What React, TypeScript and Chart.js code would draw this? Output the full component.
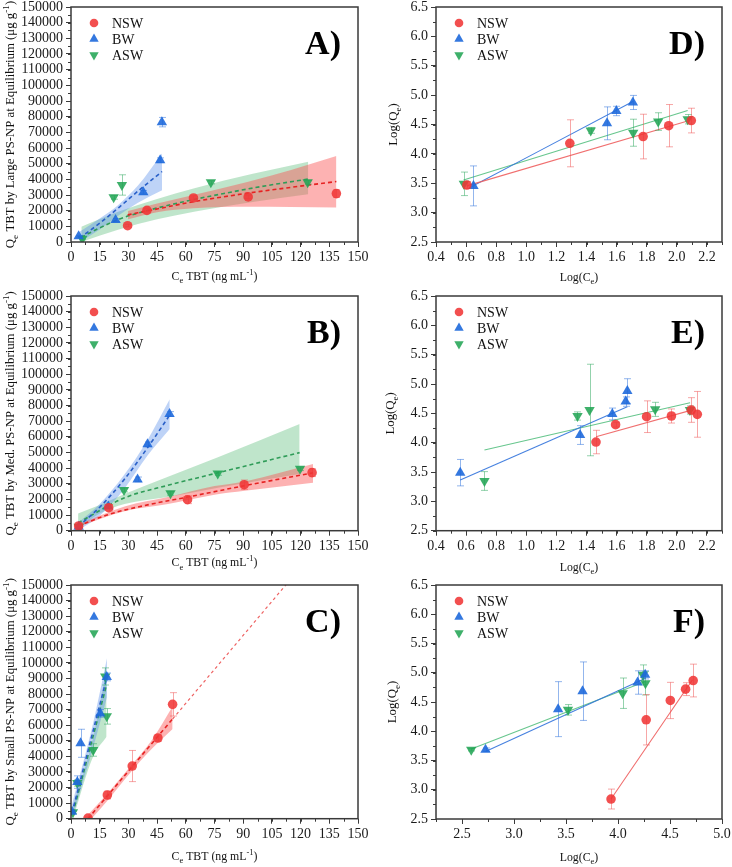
import React, { useEffect, useRef } from 'react';
import { Chart, registerables } from 'chart.js';

Chart.register(...registerables);

type Pt = [number, number, number]; // x, y, error
type Ln = [number, number]; // x, y
type Bd = [number, number, number]; // x, lower, upper

const seriesLabels = ['NSW', 'BW', 'ASW'];

// ---------- tick values ----------
const concTicks = [0, 15, 30, 45, 60, 75, 90, 105, 120, 135, 150];
const qeTicks = [0, 10000, 20000, 30000, 40000, 50000, 60000, 70000, 80000, 90000, 100000, 110000, 120000, 130000, 140000, 150000];
const logQeTicks = [2.5, 3.0, 3.5, 4.0, 4.5, 5.0, 5.5, 6.0, 6.5];
const logCeTicksDE = [0.4, 0.6, 0.8, 1.0, 1.2, 1.4, 1.6, 1.8, 2.0, 2.2];
const logCeTicksF = [2.5, 3.0, 3.5, 4.0, 4.5, 5.0];

// ---------- Panel A (Large PS-NP) ----------
const aNSW: Pt[] = [[29.6, 10400, 800], [39.7, 20200, 1000], [64.0, 28100, 1400], [92.6, 28800, 1200], [138.7, 30900, 2500]];
const aBW: Pt[] = [[4.0, 3600, 600], [23.3, 14000, 1000], [37.8, 31700, 1200], [46.6, 52200, 1500], [47.5, 76500, 3000]];
const aASW: Pt[] = [[5.9, 2000, 500], [22.3, 28500, 1200], [26.6, 36400, 6500], [73.1, 38100, 1000], [123.7, 38100, 1200]];
const aNSWFit: Ln[] = [[29.6, 17300], [45, 21100], [64, 25700], [92.6, 31200], [115, 34900], [138.7, 38600]];
const aBWFit: Ln[] = [[4.5, 2500], [15, 12000], [25, 22000], [35, 32500], [47.6, 45000]];
const aASWFit: Ln[] = [[5.4, 3000], [15, 9000], [25, 14500], [39.7, 20000], [60, 26000], [80, 31000], [100, 35500], [124, 40200]];
const aNSWBand: Bd[] = [[29.8, 14500, 19800], [45, 19000, 24500], [64, 21500, 30000], [92.6, 22500, 38500], [115, 22300, 46000], [138.7, 22100, 54900]];
const aBWBand: Bd[] = [[4.5, 0, 6500], [15, 8000, 15000], [25, 17000, 24000], [35, 25000, 36000], [47.6, 33000, 56500]];
const aASWBand: Bd[] = [[5.4, 0, 9800], [25, 8000, 19500], [45, 14500, 27500], [65, 19500, 34500], [95, 25500, 43500], [124, 30400, 51300]];

// ---------- Panel B (Med. PS-NP) ----------
const bNSW: Pt[] = [[4.0, 3000, 600], [19.7, 14700, 2000], [60.9, 19800, 2500], [90.5, 29400, 3000], [126.0, 37100, 2500]];
const bBW: Pt[] = [[4.0, 2500, 500], [19.5, 15500, 1000], [34.8, 32800, 1500], [40.0, 55200, 1500], [51.5, 74600, 1500]];
const bASW: Pt[] = [[4.0, 2600, 500], [27.7, 26000, 1200], [52.0, 23900, 1200], [76.7, 36600, 1200], [119.7, 39600, 1200]];
const bNSWFit: Ln[] = [[3.7, 3000], [20, 10500], [40, 16500], [60.9, 21500], [90.8, 28800], [126.5, 37000]];
const bBWFit: Ln[] = [[3.7, 2600], [15, 15000], [28, 33000], [40, 53000], [51.6, 73900]];
const bASWFit: Ln[] = [[3.7, 5000], [28, 21000], [50.7, 29000], [76.8, 37000], [119.5, 49900]];
const bNSWBand: Bd[] = [[3.7, 2500, 4000], [28, 12500, 15500], [50.7, 17000, 21500], [75, 23000, 28500], [90.8, 25500, 31500], [126.5, 30700, 42600]];
const bBWBand: Bd[] = [[3.7, 0, 5000], [15, 9500, 17000], [28, 27000, 36000], [40, 48000, 58000], [51.6, 65000, 84000]];
const bASWBand: Bd[] = [[3.7, 1500, 11000], [15, 11000, 16500], [28, 17000, 23500], [50.7, 21500, 34500], [76.8, 27500, 47000], [119.5, 36200, 68200]];

// ---------- Panel C (Small PS-NP) ----------
const cNSW: Pt[] = [[8.9, 400, 700], [19.0, 15200, 2500], [32.0, 33800, 10000], [45.4, 51800, 2000], [53.1, 73400, 7500]];
const cBW: Pt[] = [[0.5, 4500, 800], [3.3, 23500, 4000], [5.0, 48400, 9000], [15.3, 67600, 2500], [18.7, 91000, 2500]];
const cASW: Pt[] = [[1.0, 4100, 800], [3.3, 22900, 2000], [11.6, 44100, 4000], [17.9, 91300, 5500], [18.7, 65700, 5000]];
const cNSWFit: Ln[] = [[8.9, 0], [53.1, 64000]];
const cNSWFitExt: Ln[] = [[53.1, 64000], [115, 154000]];
const cBWFit: Ln[] = [[0.5, 3600], [18.8, 91000]];
const cASWFit: Ln[] = [[1.0, 3600], [18.6, 86000]];
const cNSWBand: Bd[] = [[8.9, -2500, 2500], [20, 13000, 17500], [31, 29500, 33500], [42, 44500, 50000], [53.1, 57500, 72000]];
const cBWBand: Bd[] = [[0.5, 0, 9000], [11.3, 44500, 60000], [18.8, 78000, 103000]];
const cASWBand: Bd[] = [[1.0, 0, 8000], [11.6, 40000, 52000], [18.6, 52600, 96500]];

// ---------- Panel D (log, Large) ----------
const dNSW: Pt[] = [[0.605, 3.47, 0.06], [1.289, 4.18, 0.40], [1.776, 4.295, 0.38], [1.946, 4.48, 0.36], [2.096, 4.567, 0.21]];
const dBW: Pt[] = [[0.649, 3.455, 0.34], [1.536, 4.52, 0.28], [1.598, 4.73, 0.08], [1.708, 4.875, 0.12]];
const dASW: Pt[] = [[0.585, 3.49, 0.2], [1.428, 4.40, 0.05], [1.71, 4.36, 0.23], [1.876, 4.55, 0.15], [2.072, 4.59, 0.08]];
const dNSWFit: Ln[] = [[0.605, 3.455], [2.083, 4.567]];
const dBWFit: Ln[] = [[0.638, 3.443], [1.708, 4.891]];
const dASWFit: Ln[] = [[0.583, 3.557], [2.072, 4.738]];

// ---------- Panel E (log, Med.) ----------
const eNSW: Pt[] = [[1.463, 4.011, 0.2], [1.593, 4.307, 0.04], [1.799, 4.443, 0.27], [1.964, 4.455, 0.12], [2.096, 4.557, 0.21], [2.136, 4.483, 0.39]];
const eBW: Pt[] = [[0.561, 3.489, 0.225], [1.357, 4.13, 0.16], [1.571, 4.49, 0.1], [1.66, 4.70, 0.08], [1.671, 4.88, 0.21]];
const eASW: Pt[] = [[0.722, 3.347, 0.16], [1.34, 4.455, 0.07], [1.42, 4.557, 0.78], [1.856, 4.568, 0.12], [2.087, 4.557, 0.07]];
const eNSWFit: Ln[] = [[1.463, 4.10], [2.116, 4.568]];
const eBWFit: Ln[] = [[0.561, 3.364], [1.671, 4.614]];
const eASWFit: Ln[] = [[0.722, 3.875], [2.088, 4.682]];

// ---------- Panel F (log, Small) ----------
const fNSW: Pt[] = [[3.933, 2.841, 0.17], [4.271, 4.196, 0.43], [4.503, 4.526, 0.31], [4.650, 4.72, 0.11], [4.723, 4.867, 0.28]];
const fBW: Pt[] = [[2.726, 3.684, 0.03], [3.424, 4.378, 0.47], [3.659, 4.685, 0.5], [4.188, 4.833, 0.2], [4.261, 4.964, 0.07]];
const fASW: Pt[] = [[2.589, 3.684, 0.02], [3.519, 4.366, 0.09], [4.045, 4.65, 0.26], [4.239, 4.964, 0.17], [4.264, 4.82, 0.2]];
const fNSWFit: Ln[] = [[3.933, 2.841], [4.716, 4.878]];
const fBWFit: Ln[] = [[2.726, 3.655], [4.264, 4.907]];
const fASWFit: Ln[] = [[2.589, 3.695], [4.264, 4.85]];

// ---------- styles ----------
const FONT = '"Liberation Serif", "DejaVu Serif", "Times New Roman", serif';
const markerColors = ['rgba(240,55,55,0.88)', 'rgba(30,105,220,0.9)', 'rgba(35,165,85,0.88)'];
const errColors = ['rgba(240,80,80,0.5)', 'rgba(40,110,220,0.5)', 'rgba(40,165,90,0.5)'];
const dashColors = ['#e62222', '#2a60c8', '#2f9c58'];
const solidColors = ['rgba(238,95,95,0.9)', 'rgba(50,115,220,0.9)', 'rgba(95,195,135,0.95)'];
const bandColors = ['rgba(250,85,85,0.45)', 'rgba(85,140,235,0.38)', 'rgba(95,190,125,0.4)'];
const pointStyles = ['circle', 'triangle', 'triangle'];
const rotations = [0, 0, 180];
const radii = [4.8, 6, 6];
const AXIS = '#3a3a3a';

interface PanelDef {
  letter: string;
  kind: 'iso' | 'log';
  left: number;
  top: number;
  width: number;
  height: number;
  series: Pt[][];
  fits: Ln[][];
  bands?: Bd[][];
  ext?: Ln[];
  xMin: number; xMax: number; xTicks: number[]; xMinor: number;
  yMin: number; yMax: number; yTicks: number[]; yMinor: number;
  xTitle: string; yTitle: string;
  xTitleOff: number; yTitleX: number;
  xAxisH: number; yAxisW: number; padRight: number;
}

const isoBase = {
  kind: 'iso' as const, left: 0, width: 372,
  xMin: 0, xMax: 150, xTicks: concTicks, xMinor: 7.5,
  yMin: 0, yMax: 150000, yTicks: qeTicks, yMinor: 5000,
  xTitle: 'C_{e} TBT (ng mL^{-1})', yTitleX: 10, yAxisW: 71, padRight: 14,
};
const logBase = {
  kind: 'log' as const, left: 366, width: 366,
  yMin: 2.5, yMax: 6.5, yTicks: logQeTicks, yMinor: 0.25,
  xTitle: 'Log(C_{e})', yTitle: 'Log(Q_{e})', yAxisW: 70, padRight: 10,
};

const panels: PanelDef[] = [
  { ...isoBase, letter: 'A)', top: 0, height: 290, series: [aNSW, aBW, aASW], fits: [aNSWFit, aBWFit, aASWFit], bands: [aNSWBand, aBWBand, aASWBand], yTitle: 'Q_{e} TBT by Large PS-NP at Equilibrium (μg g^{-1})', xTitleOff: 34, xAxisH: 48 },
  { ...isoBase, letter: 'B)', top: 289, height: 290, series: [bNSW, bBW, bASW], fits: [bNSWFit, bBWFit, bASWFit], bands: [bNSWBand, bBWBand, bASWBand], yTitle: 'Q_{e} TBT by Med. PS-NP at Equilibrium (μg g^{-1})', xTitleOff: 31.5, xAxisH: 48.3 },
  { ...isoBase, letter: 'C)', top: 578, height: 289, series: [cNSW, cBW, cASW], fits: [cNSWFit, cBWFit, cASWFit], bands: [cNSWBand, cBWBand, cASWBand], ext: cNSWFitExt, yTitle: 'Q_{e} TBT by Small PS-NP at Equilibrium (μg g^{-1})', xTitleOff: 37, xAxisH: 48.3 },
  { ...logBase, letter: 'D)', top: 0, height: 290, series: [dNSW, dBW, dASW], fits: [dNSWFit, dBWFit, dASWFit], xMin: 0.4, xMax: 2.3, xTicks: logCeTicksDE, xMinor: 0.1, xTitleOff: 34.5, yTitleX: 27, xAxisH: 48 },
  { ...logBase, letter: 'E)', top: 289, height: 290, series: [eNSW, eBW, eASW], fits: [eNSWFit, eBWFit, eASWFit], xMin: 0.4, xMax: 2.3, xTicks: logCeTicksDE, xMinor: 0.1, xTitleOff: 36, yTitleX: 24, xAxisH: 48.3 },
  { ...logBase, letter: 'F)', top: 578, height: 289, series: [fNSW, fBW, fASW], fits: [fNSWFit, fBWFit, fASWFit], xMin: 2.25, xMax: 5.0, xTicks: logCeTicksF, xMinor: 0.25, xTitleOff: 37.5, yTitleX: 26, xAxisH: 48 },
];

function drawMarker(ctx: CanvasRenderingContext2D, style: string, rotDeg: number, r: number, x: number, y: number) {
  ctx.beginPath();
  if (style === 'circle') {
    ctx.arc(x, y, r, 0, Math.PI * 2);
  } else {
    let rad = (rotDeg * Math.PI) / 180;
    for (let k = 0; k < 3; k++) {
      const px = x + Math.sin(rad) * r;
      const py = y - Math.cos(rad) * r;
      if (k === 0) ctx.moveTo(px, py); else ctx.lineTo(px, py);
      rad += (2 * Math.PI) / 3;
    }
    ctx.closePath();
  }
  ctx.fill();
}

// rich text: _{sub} and ^{sup}
function parseRich(s: string) {
  const parts: { t: string; k: number; w: number }[] = [];
  const re = /([_^])\{([^}]*)\}/g;
  let last = 0;
  let m: RegExpExecArray | null;
  while ((m = re.exec(s))) {
    if (m.index > last) parts.push({ t: s.slice(last, m.index), k: 0, w: 0 });
    parts.push({ t: m[2], k: m[1] === '_' ? 1 : 2, w: 0 });
    last = re.lastIndex;
  }
  if (last < s.length) parts.push({ t: s.slice(last), k: 0, w: 0 });
  return parts;
}

function drawRich(ctx: CanvasRenderingContext2D, s: string, cx: number, cy: number, size: number, rot: number) {
  const parts = parseRich(s);
  const fontFor = (k: number) => `${k ? size * 0.72 : size}px ${FONT}`;
  let w = 0;
  parts.forEach((p) => { ctx.font = fontFor(p.k); p.w = ctx.measureText(p.t).width; w += p.w; });
  ctx.save();
  ctx.translate(cx, cy);
  ctx.rotate(rot);
  ctx.textBaseline = 'alphabetic';
  ctx.textAlign = 'left';
  ctx.fillStyle = '#111';
  let x = -w / 2;
  const base = size * 0.35;
  parts.forEach((p) => {
    ctx.font = fontFor(p.k);
    const dy = p.k === 1 ? size * 0.28 : p.k === 2 ? -size * 0.42 : 0;
    ctx.fillText(p.t, x, base + dy);
    x += p.w;
  });
  ctx.restore();
}

const decorPlugin = {
  id: 'decor',
  beforeDatasetDraw(chart: any, args: any) {
    const ds = chart.data.datasets[args.index];
    if (!ds.errors) return;
    const ctx = chart.ctx as CanvasRenderingContext2D;
    const ys = chart.scales.y;
    const ca = chart.chartArea;
    ctx.save();
    ctx.beginPath();
    ctx.rect(ca.left, ca.top, ca.right - ca.left, ca.bottom - ca.top);
    ctx.clip();
    ctx.strokeStyle = ds.errColor;
    ctx.lineWidth = 1;
    args.meta.data.forEach((el: any, i: number) => {
      const e = ds.errors[i];
      if (!e) return;
      const v = ds.data[i].y;
      const x = Math.round(el.x) + 0.5;
      const t = ys.getPixelForValue(v + e);
      const b = ys.getPixelForValue(v - e);
      ctx.beginPath();
      ctx.moveTo(x, t); ctx.lineTo(x, b);
      ctx.moveTo(x - 3.5, t); ctx.lineTo(x + 3.5, t);
      ctx.moveTo(x - 3.5, b); ctx.lineTo(x + 3.5, b);
      ctx.stroke();
    });
    ctx.restore();
  },
  afterDraw(chart: any, _args: any, opts: any) {
    const ctx = chart.ctx as CanvasRenderingContext2D;
    const ca = chart.chartArea;
    const xs = chart.scales.x;
    const ys = chart.scales.y;
    ctx.save();
    // minor ticks
    ctx.strokeStyle = AXIS;
    ctx.lineWidth = 1;
    const nx = Math.round((xs.max - xs.min) / opts.xMinor);
    for (let k = 0; k <= nx; k++) {
      const p = Math.round(xs.getPixelForValue(xs.min + k * opts.xMinor)) + 0.5;
      ctx.beginPath(); ctx.moveTo(p, ca.bottom); ctx.lineTo(p, ca.bottom + 3); ctx.stroke();
    }
    const ny = Math.round((ys.max - ys.min) / opts.yMinor);
    for (let k = 0; k <= ny; k++) {
      const p = Math.round(ys.getPixelForValue(ys.min + k * opts.yMinor)) + 0.5;
      ctx.beginPath(); ctx.moveTo(ca.left, p); ctx.lineTo(ca.left - 3, p); ctx.stroke();
    }
    // frame
    ctx.lineWidth = 1.5;
    ctx.strokeRect(ca.left, ca.top, ca.right - ca.left, ca.bottom - ca.top);
    // axis titles
    drawRich(ctx, opts.xTitle, (ca.left + ca.right) / 2, ca.bottom + opts.xTitleOff, 11.8, 0);
    drawRich(ctx, opts.yTitle, opts.yTitleX, (ca.top + ca.bottom) / 2, 12.8, -Math.PI / 2);
    // panel letter
    ctx.fillStyle = '#000';
    ctx.font = `bold 34px ${FONT}`;
    ctx.textAlign = 'right';
    ctx.textBaseline = 'alphabetic';
    ctx.fillText(opts.letter, ca.right - 17, ca.top + 47);
    // legend
    const items = chart.data.datasets.filter((d: any) => d.errors);
    items.forEach((d: any, k: number) => {
      const cy = ca.top + 16 + k * 16;
      ctx.fillStyle = d.pointBackgroundColor;
      drawMarker(ctx, d.pointStyle, d.pointRotation || 0, d.pointRadius * 0.9, ca.left + 23, cy);
      ctx.fillStyle = '#111';
      ctx.font = `14px ${FONT}`;
      ctx.textAlign = 'left';
      ctx.textBaseline = 'middle';
      ctx.fillText(d.label, ca.left + 41, cy + 1);
    });
    ctx.restore();
  },
};

function buildConfig(p: PanelDef): any {
  const datasets: any[] = [];
  (p.bands || []).forEach((band, i) => {
    datasets.push({
      type: 'line', data: band.map((r) => ({ x: r[0], y: r[2] })),
      borderWidth: 0, borderColor: 'rgba(0,0,0,0)', pointRadius: 0, fill: '+1',
      backgroundColor: bandColors[i], cubicInterpolationMode: 'monotone', order: 11 + i,
    });
    datasets.push({
      type: 'line', data: band.map((r) => ({ x: r[0], y: r[1] })),
      borderWidth: 0, borderColor: 'rgba(0,0,0,0)', pointRadius: 0, fill: false,
      cubicInterpolationMode: 'monotone', order: 11 + i,
    });
  });
  p.fits.forEach((fit, i) => {
    datasets.push({
      type: 'line', data: fit.map((r) => ({ x: r[0], y: r[1] })),
      borderColor: p.kind === 'iso' ? dashColors[i] : solidColors[i],
      borderWidth: p.kind === 'iso' ? 1.6 : 1.1,
      borderDash: p.kind === 'iso' ? [4, 3] : [],
      pointRadius: 0, fill: false, cubicInterpolationMode: 'monotone', order: 5,
    });
  });
  if (p.ext) {
    datasets.push({
      type: 'line', data: p.ext.map((r) => ({ x: r[0], y: r[1] })),
      borderColor: 'rgba(236,80,80,0.9)', borderWidth: 1.2, borderDash: [3, 3],
      pointRadius: 0, fill: false, order: 6,
    });
  }
  p.series.forEach((pts, i) => {
    datasets.push({
      type: 'line', label: seriesLabels[i], showLine: false,
      data: pts.map((r) => ({ x: r[0], y: r[1] })),
      errors: pts.map((r) => r[2]), errColor: errColors[i],
      pointStyle: pointStyles[i], pointRotation: rotations[i], pointRadius: radii[i],
      pointBackgroundColor: markerColors[i], pointBorderColor: markerColors[i], pointBorderWidth: 0,
      order: 0,
    });
  });

  const tickFont = { family: FONT, size: 14 };
  const fmt = (v: number) => (p.kind === 'iso' ? String(v) : v.toFixed(1));

  return {
    type: 'line',
    data: { datasets },
    plugins: [decorPlugin],
    options: {
      responsive: false,
      animation: false,
      events: [],
      layout: { padding: { top: 7, right: p.padRight, left: 0, bottom: 0 } },
      plugins: {
        legend: { display: false },
        tooltip: { enabled: false },
        decor: { letter: p.letter, xMinor: p.xMinor, yMinor: p.yMinor, xTitle: p.xTitle, yTitle: p.yTitle, xTitleOff: p.xTitleOff, yTitleX: p.yTitleX },
      },
      scales: {
        x: {
          type: 'linear', min: p.xMin, max: p.xMax,
          afterBuildTicks: (s: any) => { s.ticks = p.xTicks.map((v) => ({ value: v })); },
          afterFit: (s: any) => { s.height = p.xAxisH; s.paddingLeft = 0; s.paddingRight = 0; },
          ticks: { autoSkip: false, maxRotation: 0, minRotation: 0, padding: 2, color: '#1a1a1a', font: tickFont, callback: (v: any) => fmt(Number(v)) },
          grid: { display: true, drawOnChartArea: false, drawTicks: true, tickLength: 5, tickColor: AXIS, tickWidth: 1 },
          border: { display: false },
          title: { display: false },
        },
        y: {
          type: 'linear', min: p.yMin, max: p.yMax,
          afterBuildTicks: (s: any) => { s.ticks = p.yTicks.map((v) => ({ value: v })); },
          afterFit: (s: any) => { s.width = p.yAxisW; s.paddingTop = 0; s.paddingBottom = 0; },
          ticks: { autoSkip: false, padding: 3, color: '#1a1a1a', font: tickFont, callback: (v: any) => fmt(Number(v)) },
          grid: { display: true, drawOnChartArea: false, drawTicks: true, tickLength: 5, tickColor: AXIS, tickWidth: 1 },
          border: { display: false },
          title: { display: false },
        },
      },
    },
  };
}

function Panel({ def }: { def: PanelDef }) {
  const ref = useRef<HTMLCanvasElement>(null);
  useEffect(() => {
    if (!ref.current) return;
    const chart = new Chart(ref.current, buildConfig(def));
    return () => chart.destroy();
  }, [def]);
  return (
    <canvas
      ref={ref}
      width={def.width}
      height={def.height}
      style={{ position: 'absolute', left: def.left, top: def.top, width: def.width, height: def.height }}
    />
  );
}

export default function App() {
  return (
    <div style={{ position: 'absolute', left: 0, top: 0, width: 732, height: 867, background: '#fff', overflow: 'hidden' }}>
      {panels.map((p) => (
        <Panel key={p.letter} def={p} />
      ))}
    </div>
  );
}
